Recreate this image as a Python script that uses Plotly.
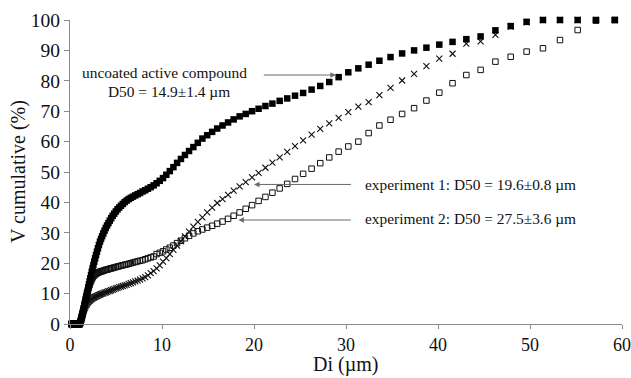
import plotly.graph_objects as go

# Particle size classes (µm), shared by the three measurements
size_um = [
    0.15, 0.20, 0.25, 0.30, 0.35, 0.40, 0.45,
    0.500, 0.518, 0.537, 0.556, 0.576, 0.597, 0.618, 0.640, 0.663, 0.687,
    0.712, 0.738, 0.764, 0.792, 0.820, 0.850, 0.880, 0.912, 0.945, 0.979,
    1.014, 1.051, 1.089, 1.128, 1.168, 1.210, 1.254, 1.299, 1.346, 1.394,
    1.445, 1.497, 1.551, 1.606, 1.664, 1.724, 1.786, 1.850, 1.917, 1.986,
    2.058, 2.132, 2.208, 2.288, 2.370, 2.456, 2.544, 2.636, 2.730, 2.829,
    2.931, 3.036, 3.145, 3.259, 3.376, 3.497, 3.623, 3.754, 3.889, 4.029,
    4.174, 4.324, 4.480, 4.641, 4.808, 4.981, 5.161, 5.346, 5.539, 5.738,
    5.945, 6.159, 6.381, 6.610, 6.848, 7.095, 7.350, 7.615, 7.889, 8.173,
    8.467, 8.772, 9.088, 9.415, 9.754, 10.11, 10.47, 10.85, 11.24, 11.64,
    12.06, 12.49, 12.94, 13.41, 13.89, 14.39, 14.91, 15.45, 16.00, 16.58,
    17.18, 17.79, 18.44, 19.10, 19.79, 20.50, 21.24, 22.00, 22.79, 23.61,
    24.46, 25.34, 26.26, 27.20, 28.18, 29.20, 30.25, 31.34, 32.46, 33.63,
    34.84, 36.10, 37.40, 38.74, 40.14, 41.58, 43.08, 44.63, 46.24, 47.90,
    49.63, 51.41, 53.26, 55.18, 57.17, 59.22,
]

# Cumulative volume (%) – uncoated active compound
uncoated = [
    0, 0, 0, 0, 0, 0, 0,
    0, 0, 0, 0, 0, 0, 0, 0, 0, 0,
    0, 0, 0, 0, 0, 0, 0, 0, 0, 0,
    0, 0, 0.3, 0.6, 1.0, 1.5, 2.0, 2.6, 3.2, 3.8,
    4.5, 5.2, 5.9, 6.7, 7.5, 8.3, 9.2, 10.1, 11.0, 12.0,
    13.0, 14.0, 15.0, 16.1, 17.2, 18.3, 19.4, 20.5, 21.6, 22.7,
    23.8, 24.9, 26.0, 27.1, 28.0, 28.9, 29.8, 30.7, 31.6, 32.4,
    33.2, 34.0, 34.8, 35.6, 36.3, 37.0, 37.7, 38.3, 38.9, 39.5,
    40.1, 40.6, 41.1, 41.5, 41.9, 42.3, 42.7, 43.1, 43.6, 44.0,
    44.5, 45.0, 45.6, 46.3, 47.1, 48.0, 49.1, 50.3, 51.6, 53.0,
    54.3, 55.6, 56.9, 58.2, 59.6, 61.0, 62.1, 63.2, 64.3, 65.3,
    66.3, 67.3, 68.3, 69.1, 70.0, 70.8, 71.7, 72.5, 73.4, 74.2,
    75.1, 76.0, 77.1, 78.3, 79.6, 81.2, 82.8, 84.1, 85.3, 86.6,
    87.8, 89.0, 90.0, 90.9, 91.9, 92.8, 93.7, 94.6, 96.6, 98.0,
    99.4, 100, 100, 100, 100, 100,
]

# Cumulative volume (%) – experiment 1
experiment_1 = [
    0, 0, 0, 0, 0, 0, 0,
    0, 0, 0, 0, 0, 0, 0, 0, 0, 0,
    0, 0, 0, 0, 0, 0, 0, 0, 0, 0,
    0, 0, 0.3, 0.6, 1.0, 1.4, 1.9, 2.4, 2.9, 3.4,
    3.9, 4.4, 4.9, 5.3, 5.7, 6.1, 6.4, 6.7, 7.0, 7.3,
    7.5, 7.7, 7.9, 8.1, 8.3, 8.5, 8.6, 8.8, 8.9, 9.1,
    9.2, 9.4, 9.5, 9.7, 9.8, 10.0, 10.1, 10.3, 10.4, 10.6,
    10.8, 10.9, 11.1, 11.3, 11.5, 11.7, 11.9, 12.1, 12.3, 12.5,
    12.7, 12.9, 13.2, 13.4, 13.7, 14.0, 14.3, 14.6, 15.0, 15.4,
    16.0, 16.7, 17.4, 18.3, 19.3, 20.5, 21.7, 23.0, 24.4, 25.8,
    27.3, 28.8, 30.4, 32.0, 33.6, 35.1, 36.7, 38.3, 39.8, 41.1,
    42.5, 43.9, 45.3, 46.7, 48.2, 49.7, 51.4, 53.1, 54.8, 56.6,
    58.5, 60.4, 62.3, 64.2, 66.0, 67.8, 69.7, 71.5, 73.0, 75.3,
    77.7, 80.1, 82.3, 84.8, 87.3, 88.9, 92.2, 93.0, 95.1, 97.8,
    99.2, 100, 100, 100, 100, 100,
]

# Cumulative volume (%) – experiment 2
experiment_2 = [
    0, 0, 0, 0, 0, 0, 0,
    0, 0, 0, 0, 0, 0, 0, 0, 0, 0,
    0, 0, 0, 0, 0, 0, 0, 0, 0, 0,
    0, 0, 0.3, 0.6, 1.0, 1.5, 2.0, 2.6, 3.2, 3.8,
    4.5, 5.2, 5.9, 6.6, 7.4, 8.2, 9.0, 9.8, 10.6, 11.4,
    12.2, 12.9, 13.6, 14.2, 14.8, 15.3, 15.7, 16.0, 16.3, 16.5,
    16.7, 16.9, 17.0, 17.2, 17.3, 17.4, 17.5, 17.7, 17.8, 17.9,
    18.0, 18.2, 18.3, 18.4, 18.6, 18.7, 18.9, 19.0, 19.2, 19.3,
    19.5, 19.6, 19.8, 20.0, 20.2, 20.4, 20.6, 20.8, 21.0, 21.3,
    21.6, 21.9, 22.2, 23.0, 23.4, 23.9, 24.5, 25.1, 25.8, 26.6,
    27.4, 28.2, 29.0, 29.8, 30.5, 31.1, 31.7, 32.3, 33.0, 33.7,
    34.6, 35.6, 36.7, 37.9, 39.1, 40.5, 41.8, 43.2, 44.6, 46.1,
    47.7, 49.4, 51.1, 52.9, 54.8, 56.7, 58.4, 60.0, 62.8, 65.3,
    67.2, 69.1, 71.0, 73.5, 76.1, 79.2, 81.9, 83.6, 86.3, 87.9,
    89.6, 90.7, 93.4, 96.7, 99.8, 100,
]

x_ticks = [0, 10, 20, 30, 40, 50, 60]
y_ticks = [0, 10, 20, 30, 40, 50, 60, 70, 80, 90, 100]

label_uncoated = ["uncoated active compound", "D50 = 14.9±1.4 µm"]
label_exp1 = "experiment 1: D50 = 19.6±0.8 µm"
label_exp2 = "experiment 2: D50 = 27.5±3.6 µm"

SERIF = "Liberation Serif, Times New Roman, serif"
AXIS_GREY = "#8a8a8a"

fig = go.Figure()

fig.add_trace(go.Scatter(
    x=size_um, y=experiment_2, mode="markers", name="experiment 2",
    marker=dict(symbol="square-open", size=5.5, color="#111",
                line=dict(width=1, color="#111")),
    cliponaxis=False,
))
fig.add_trace(go.Scatter(
    x=size_um, y=experiment_1, mode="markers", name="experiment 1",
    marker=dict(symbol="x-thin-open", size=6, color="#111",
                line=dict(width=1.1, color="#111")),
    cliponaxis=False,
))
fig.add_trace(go.Scatter(
    x=size_um, y=uncoated, mode="markers", name="uncoated",
    marker=dict(symbol="square", size=6.5, color="#000",
                line=dict(width=0)),
    cliponaxis=False,
))

text_font = dict(family=SERIF, size=15.4, color="#111")

# label placements, given in page pixels
annotations = [
    dict(x=164, y=73, text=label_uncoated[0]),
    dict(x=169, y=92, text=label_uncoated[1]),
    dict(x=363, y=184, text=label_exp1, xanchor="left"),
    dict(x=363, y=218, text=label_exp2, xanchor="left"),
]

# convert pixel placements of the labels into paper coordinates
W, H = 631, 378
ML, MR, MT, MB = 70, 9, 20, 54
pw, ph = W - ML - MR, H - MT - MB
ann_out = []
for a in annotations:
    px, py = a["x"], a["y"]
    ann_out.append(dict(
        x=(px - ML) / pw, y=(H - MB - py) / ph,
        xref="paper", yref="paper", text=a["text"], showarrow=False,
        xanchor=a.get("xanchor", "center"), yanchor="middle",
        font=text_font,
    ))

# arrows (data coordinates: tail -> head)
arrows = [
    ((20.9, 81.9), (28.9, 81.9)),
    ((30.7, 45.9), (20.0, 45.9)),
    ((30.7, 34.2), (18.3, 34.2)),
]
for (tx, ty), (hx, hy) in arrows:
    ann_out.append(dict(
        x=hx, y=hy, ax=tx, ay=ty, xref="x", yref="y", axref="x", ayref="y",
        text="", showarrow=True, arrowhead=2, arrowsize=1.1, arrowwidth=1,
        arrowcolor="#6a6a6a", standoff=0, startstandoff=0,
    ))

# axis titles
ann_out.append(dict(
    x=(18 - ML) / pw, y=0.5, xref="paper", yref="paper",
    text="V cumulative (%)", textangle=-90, showarrow=False,
    xanchor="center", yanchor="middle",
    font=dict(family=SERIF, size=20, color="#111"),
))
ann_out.append(dict(
    x=(345 - ML) / pw, y=(H - MB - 364) / ph, xref="paper", yref="paper",
    text="Di (µm)", showarrow=False, xanchor="center", yanchor="middle",
    font=dict(family=SERIF, size=20, color="#111"),
))

fig.update_layout(
    width=W, height=H,
    margin=dict(l=ML, r=MR, t=MT, b=MB, autoexpand=False),
    paper_bgcolor="white", plot_bgcolor="white",
    showlegend=False,
    annotations=ann_out,
    font=dict(family=SERIF, color="#111"),
)
fig.update_xaxes(
    range=[0, 60], tickvals=x_ticks, ticktext=[str(v) for v in x_ticks],
    showgrid=False, zeroline=False, showline=True, linecolor=AXIS_GREY,
    linewidth=1, ticks="outside", ticklen=4, tickcolor=AXIS_GREY,
    tickfont=dict(family=SERIF, size=18, color="#111"),
    automargin=False, ticklabeloverflow="allow",
)
fig.update_yaxes(
    range=[0, 100], tickvals=y_ticks, ticktext=[str(v) for v in y_ticks],
    showgrid=False, zeroline=False, showline=True, linecolor=AXIS_GREY,
    linewidth=1, ticks="outside", ticklen=5, tickcolor=AXIS_GREY,
    tickfont=dict(family=SERIF, size=19.5, color="#111"),
    automargin=False, ticklabeloverflow="allow",
)

fig.write_html("out.html")
